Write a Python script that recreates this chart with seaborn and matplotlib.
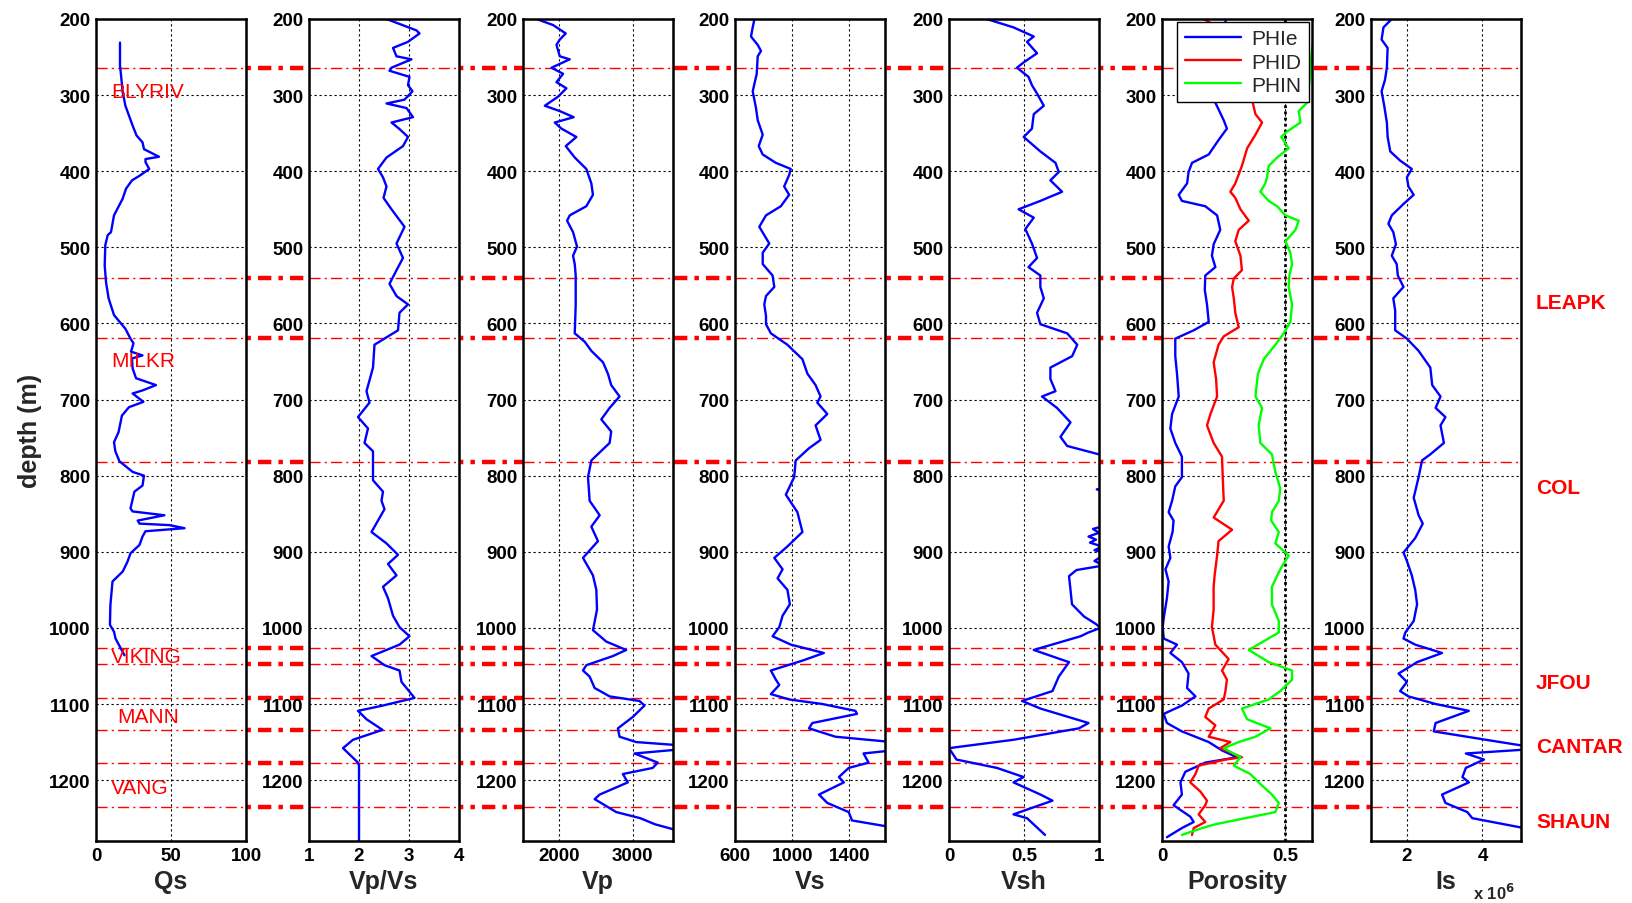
import numpy as np
import pandas as pd
import matplotlib
matplotlib.use("Agg")
import matplotlib.pyplot as plt
import seaborn as sns
from matplotlib.lines import Line2D
from matplotlib import transforms

# ---------------- data (depth m, value) ----------------
qs_log = [(231,16),(261,16),(274,16.7),(296,17.8),(314,19.6),(327,22),(340,24.4),(353,27),(362,31),(371,32),
          (377,38),(381,42),(384,33),(388,33),(397,35.5),(406,29),(412,24),(423,20),(436,17.8),(458,12),(480,10),
          (484,7.8),(497,6.2),(524,5.8),(546,6.7),(567,8.4),(589,12),(607,19.6),(620,23),(626,25),(633,24),
          (637,23.3),(642,31),(646,24),(659,24.4),(672,26.7),(681,40),(688,31),(692,24.4),(699,29),(703,31.6),
          (710,22),(721,17.3),(743,15),(756,12),(768,12.9),(781,15.6),(795,24.4),(800,32),(813,31),(821,25.6),
          (843,23),(847,24.4),(852,45.6),(859,27.8),(863,29),(865,49),(869,59),(873,33),(880,31),(891,29),
          (902,23),(913,21),(926,17.8),(939,11),(970,9.6),(996,9.3),(1005,12),(1014,13),(1036,19)]

vpvs_log = [(200,2.55),(215,3.15),(219,3.21),(230,2.98),(238,2.68),(249,2.75),(253,3.05),(264,2.65),(268,2.61),
            (276,3.01),(287,2.98),(295,3.07),(306,2.91),(311,2.55),(317,2.95),(329,3.08),(336,2.65),(344,2.8),
            (355,2.98),(367,2.88),(382,2.55),(397,2.38),(408,2.48),(420,2.55),(435,2.49),(450,2.65),(473,2.91),
            (495,2.75),(514,2.88),(530,2.75),(548,2.61),(564,2.75),(575,2.98),(586,2.81),(609,2.78),(628,2.31),
            (658,2.28),(689,2.15),(704,2.21),(723,1.98),(738,2.18),(757,2.11),(768,2.28),(806,2.28),(821,2.48),
            (833,2.45),(844,2.51),(874,2.25),(889,2.55),(904,2.78),(916,2.58),(931,2.75),(946,2.48),(961,2.58),
            (984,2.68),(999,2.81),(1011,3.01),(1022,2.81),(1037,2.25),(1049,2.51),(1056,2.81),(1071,2.85),
            (1079,2.95),(1092,3.11),(1102,2.48),(1109,1.98),(1120,2.15),(1134,2.47),(1147,1.88),(1158,1.68),
            (1177,1.98),(1181,2.0),(1280,2.0)]

vp_log = [(200,1694),(208,1919),(219,2090),(227,2009),(234,1964),(249,2009),(253,2144),(261,1964),(264,1896),
          (272,2054),(283,1964),(291,2099),(302,1986),(314,1806),(321,2009),(329,2198),(336,1941),(344,2031),
          (355,2234),(367,2090),(382,2212),(397,2369),(416,2437),(431,2459),(446,2369),(458,2144),(465,2108),
          (480,2189),(499,2243),(511,2189),(522,2212),(537,2225),(575,2225),(613,2212),(624,2347),(636,2437),
          (651,2595),(666,2662),(681,2707),(696,2820),(711,2685),(726,2572),(742,2707),(757,2685),(780,2437),
          (802,2392),(833,2414),(852,2550),(867,2437),(886,2527),(908,2324),(931,2459),(950,2505),(976,2514),
          (1003,2459),(1018,2640),(1029,2910),(1037,2730),(1049,2369),(1056,2324),(1064,2414),(1079,2482),
          (1090,2685),(1096,3090),(1102,3158),(1117,3000),(1132,2797),(1143,2820),(1150,3045),(1154,3600),
          (1160,3600),(1165,3023),(1177,3338),(1184,3270),(1192,2865),(1203,2932),(1219,2550),(1225,2482),
          (1242,2775),(1250,3100),(1258,3300),(1266,3600)]

vs_log = [(200,736),(211,724),(223,712),(234,759),(242,782),(249,759),(272,752),(295,724),(317,747),(333,759),
          (352,794),(367,766),(378,794),(389,886),(397,990),(405,979),(420,944),(431,979),(446,921),(458,817),
          (473,770),(484,805),(495,840),(507,794),(522,794),(537,863),(552,875),(564,817),(575,805),(590,817),
          (601,817),(613,851),(628,967),(647,1072),(666,1107),(681,1164),(696,1199),(704,1176),(719,1246),
          (734,1164),(753,1199),(764,1118),(780,1025),(802,1014),(825,956),(848,1037),(874,1072),(893,967),
          (908,875),(923,933),(935,898),(950,967),(969,984),(984,933),(999,910),(1011,863),(1022,991),
          (1033,1222),(1043,1072),(1056,851),(1068,886),(1075,910),(1087,851),(1094,979),(1100,1211),
          (1109,1443),(1113,1454),(1125,1141),(1132,1118),(1143,1303),(1150,1700),(1161,1700),(1165,1500),
          (1177,1535),(1184,1396),(1196,1327),(1203,1362),(1219,1188),(1230,1246),(1242,1396),(1253,1419),
          (1262,1700)]

vsh_log = [(200,0.25),(211,0.43),(223,0.565),(230,0.52),(245,0.587),(257,0.498),(264,0.453),(276,0.53),
           (287,0.553),(298,0.587),(314,0.632),(325,0.565),(344,0.553),(355,0.498),(374,0.609),(389,0.71),
           (401,0.732),(412,0.676),(427,0.754),(439,0.609),(450,0.464),(461,0.565),(476,0.509),(495,0.553),
           (514,0.587),(526,0.53),(537,0.609),(552,0.609),(567,0.632),(586,0.587),(601,0.609),(613,0.788),
           (628,0.855),(643,0.821),(658,0.676),(673,0.676),(689,0.71),(696,0.62),(711,0.72),(730,0.81),
           (749,0.743),(761,0.788),(772,1.0),(780,1.1),(815,1.05),(818,0.985),(822,1.05),(865,1.05),(870,0.96),
           (875,1.0),(880,0.93),(884,0.98),(888,0.94),(893,1.02),(898,0.97),(902,1.05),(912,0.97),(918,1.03),
           (924,0.85),(932,0.80),(950,0.81),(969,0.82),(985,0.9),(995,0.98),(1000,1.01),(1006,0.93),
           (1011,0.877),(1029,0.565),(1045,0.8),(1064,0.732),(1083,0.69),(1096,0.487),(1106,0.61),(1125,0.93),
           (1132,0.866),(1147,0.43),(1158,0.0),(1173,0.05),(1184,0.32),(1196,0.498),(1203,0.43),(1219,0.61),
           (1227,0.69),(1245,0.43),(1250,0.52),(1272,0.64)]

phie_log = [(200,0.26),(230,0.245),(260,0.23),(290,0.22),(310,0.217),(333,0.251),(344,0.264),(359,0.23),
            (378,0.19),(389,0.122),(401,0.108),(416,0.102),(431,0.068),(439,0.081),(446,0.176),(458,0.224),
            (477,0.237),(496,0.21),(511,0.203),(526,0.217),(537,0.176),(556,0.174),(575,0.183),(598,0.19),
            (609,0.129),(620,0.054),(643,0.054),(666,0.061),(696,0.068),(719,0.041),(738,0.034),(757,0.054),
            (775,0.081),(802,0.081),(814,0.054),(833,0.041),(848,0.027),(859,0.047),(874,0.043),(893,0.027),
            (908,0.034),(923,0.014),(939,0.027),(961,0.02),(987,0.007),(999,0.003),(1014,0.007),(1022,0.061),
            (1033,0.034),(1045,0.081),(1060,0.108),(1079,0.102),(1090,0.136),(1102,0.081),(1113,0.007),
            (1125,0.02),(1136,0.081),(1150,0.19),(1161,0.244),(1170,0.305),(1177,0.176),(1189,0.095),
            (1203,0.075),(1219,0.081),(1233,0.047),(1248,0.115),(1255,0.129),(1263,0.081),(1275,0.02)]

phid_log = [(200,0.17),(215,0.25),(240,0.33),(270,0.36),(290,0.37),(310,0.369),(325,0.38),(336,0.407),
            (352,0.38),(370,0.346),(393,0.325),(416,0.298),(427,0.278),(435,0.298),(450,0.319),(465,0.353),
            (477,0.312),(492,0.298),(511,0.319),(530,0.325),(541,0.292),(552,0.285),(567,0.292),(586,0.298),
            (605,0.312),(617,0.251),(628,0.23),(651,0.21),(673,0.22),(696,0.224),(719,0.197),(734,0.183),
            (757,0.21),(775,0.244),(802,0.247),(833,0.251),(855,0.21),(871,0.285),(886,0.23),(905,0.224),
            (931,0.214),(946,0.21),(976,0.21),(999,0.203),(1022,0.217),(1041,0.271),(1056,0.244),(1068,0.264),
            (1083,0.258),(1094,0.251),(1106,0.19),(1117,0.176),(1128,0.217),(1143,0.19),(1150,0.278),
            (1158,0.237),(1170,0.325),(1173,0.258),(1181,0.149),(1192,0.136),(1203,0.115),(1215,0.156),
            (1227,0.183),(1233,0.176),(1245,0.149),(1255,0.176),(1263,0.129),(1272,0.122)]

phin_log = [(200,0.63),(240,0.61),(280,0.6),(310,0.59),(321,0.556),(336,0.563),(348,0.508),(355,0.485),
            (370,0.515),(382,0.468),(393,0.434),(408,0.427),(416,0.42),(427,0.40),(439,0.434),(446,0.468),
            (458,0.502),(465,0.556),(477,0.543),(492,0.502),(507,0.522),(522,0.529),(537,0.518),(552,0.515),
            (575,0.529),(598,0.522),(613,0.495),(628,0.461),(647,0.414),(666,0.39),(696,0.38),(711,0.407),
            (734,0.393),(757,0.40),(772,0.447),(795,0.461),(817,0.481),(833,0.475),(848,0.447),(859,0.444),
            (874,0.475),(889,0.461),(905,0.515),(923,0.481),(946,0.447),(969,0.447),(991,0.475),(1006,0.475),
            (1029,0.353),(1045,0.434),(1056,0.529),(1068,0.529),(1083,0.481),(1094,0.434),(1106,0.325),
            (1120,0.346),(1132,0.441),(1143,0.38),(1150,0.312),(1158,0.251),(1170,0.319),(1181,0.292),
            (1192,0.359),(1203,0.393),(1219,0.447),(1230,0.475),(1242,0.461),(1258,0.217),(1263,0.163),
            (1272,0.081)]

is_log = [(200,1.6),(211,1.38),(227,1.33),(238,1.49),(264,1.47),(280,1.42),(295,1.33),(314,1.4),(336,1.47),
          (355,1.49),(374,1.56),(386,1.82),(397,2.13),(408,2.0),(420,2.04),(431,2.18),(443,1.91),(458,1.6),
          (469,1.51),(480,1.64),(496,1.71),(511,1.6),(522,1.73),(537,1.76),(552,1.91),(567,1.64),(583,1.69),
          (609,1.69),(620,2.0),(636,2.31),(658,2.62),(681,2.67),(696,2.89),(711,2.76),(723,3.02),(734,2.89),
          (757,2.98),(772,2.62),(780,2.4),(802,2.31),(829,2.18),(852,2.31),(863,2.42),(882,2.22),(901,1.91),
          (912,2.0),(931,2.13),(950,2.22),(969,2.27),(991,2.18),(1006,1.96),(1014,1.91),(1022,2.22),(1033,2.93),
          (1045,2.27),(1060,1.78),(1071,2.0),(1083,1.82),(1090,2.04),(1100,2.76),(1109,3.64),(1117,3.2),
          (1125,2.76),(1136,2.71),(1147,4.09),(1155,5.1),(1160,5.1),(1165,3.56),(1173,4.04),(1184,3.56),
          (1196,3.47),(1203,3.64),(1219,2.93),(1230,3.02),(1242,3.6),(1250,3.73),(1263,5.1)]

formation_tops = [265, 540, 619, 782, 1026, 1047, 1092, 1134, 1178, 1235]
left_names = ["BLYRIV", "MILKR", "VIKING", "MANN", "VANG"]
left_depths = [295, 649, 1037, 1116, 1210]
right_names = ["LEAPK", "COL", "JFOU", "CANTAR", "SHAUN"]
right_depths = [572, 815, 1072, 1156, 1255]

depth_ticks = list(range(200, 1201, 100))

panel_names = ["Qs", "Vp/Vs", "Vp", "Vs", "Vsh", "Porosity", "Is"]
panel_limits = [(0, 100), (1, 4), (1510, 3545), (600, 1650), (0, 1), (0, 0.61), (1.05, 5.02)]
panel_ticks = [[0, 50, 100], [1, 2, 3, 4], [2000, 3000], [600, 1000, 1400], [0, 0.5, 1], [0, 0.5], [2, 4]]
panel_ticklabels = [["0", "50", "100"], ["1", "2", "3", "4"], ["2000", "3000"], ["600", "1000", "1400"],
                    ["0", "0.5", "1"], ["0", "0.5"], ["2", "4"]]

# ---------------- style ----------------
sns.set_style("white")
plt.rcParams["font.family"] = ["Liberation Sans", "DejaVu Sans"]
plt.rcParams["axes.axisbelow"] = True

W, H = 1633, 904
fig = plt.figure(figsize=(W / 100, H / 100), dpi=100)
fig.patch.set_facecolor("white")

lefts_px = [96, 309, 523, 735, 949, 1162, 1371]
ax_w_px = 150
top_px, bot_px = 20, 842

def frame(df):
    return pd.DataFrame(df, columns=["depth", "value"])

single_logs = [qs_log, vpvs_log, vp_log, vs_log, vsh_log, None, is_log]
axes = []
for i, name in enumerate(panel_names):
    ax = fig.add_axes([lefts_px[i] / W, (H - bot_px) / H, ax_w_px / W, (bot_px - top_px) / H])
    axes.append(ax)
    if single_logs[i] is not None:
        sns.lineplot(data=frame(single_logs[i]), x="value", y="depth", orient="y", sort=False,
                     estimator=None, color=(0, 0, 1), lw=1.7, ax=ax)
    else:
        for log, lab, col in [(phie_log, "PHIe", (0, 0, 1)), (phid_log, "PHID", (1, 0, 0)),
                              (phin_log, "PHIN", (0, 1, 0))]:
            sns.lineplot(data=frame(log), x="value", y="depth", orient="y", sort=False,
                         estimator=None, color=col, lw=1.7, ax=ax, label=lab)
    ax.set_xlim(*panel_limits[i])
    ax.set_ylim(1280, 200)
    ax.set_xticks(panel_ticks[i])
    ax.set_xticklabels(panel_ticklabels[i])
    ax.set_yticks(depth_ticks)
    ax.set_yticklabels([str(t) for t in depth_ticks])
    ax.grid(True, color="k", ls=(0, (2, 2.5)), lw=0.8)
    for s in ax.spines.values():
        s.set_color("k")
        s.set_linewidth(1.8)
    ax.tick_params(direction="in", length=4, width=1, labelsize=13.5, pad=4, colors="k")
    for lab in ax.get_xticklabels() + ax.get_yticklabels():
        lab.set_fontweight("bold")
    ax.set_xlabel(name, fontsize=18, fontweight="bold", labelpad=4)
    ax.set_ylabel("")
    for d in formation_tops:
        ax.axhline(d, color="red", lw=1.0, ls=(0, (8, 3, 1.5, 3)), zorder=1.8)

axes[0].set_ylabel("depth (m)", fontsize=18, fontweight="bold")
axes[0].yaxis.set_label_coords(-0.36, 0.5)

# porosity legend and cutoff
por = axes[5]
por.axvline(0.5, color="k", ls=(0, (1, 1.2)), lw=2, zorder=1.5)
leg = por.legend(loc="upper right", fontsize=15, frameon=True, fancybox=False, edgecolor="k",
                 framealpha=1, borderaxespad=0.15, handlelength=2.7, labelspacing=0.2,
                 borderpad=0.35, handletextpad=0.5)
leg.get_frame().set_linewidth(1)
leg.set_zorder(5)

# left formation names
for name, d in zip(left_names, left_depths):
    x = 14 if name == "MANN" else 10
    axes[0].text(x, d, name, color="red", fontsize=15, ha="left", va="center", zorder=4)

# figure-wide thick formation lines (visible between panels)
blend = transforms.blended_transform_factory(fig.transFigure, axes[0].transData)
for d in formation_tops:
    ln = Line2D([98 / W, 1526 / W], [d, d], transform=blend, color="red", lw=3.2,
                ls=(0, (3, 1.6, 1, 1.6)), zorder=-1)
    fig.add_artist(ln)

# right formation names
for name, d in zip(right_names, right_depths):
    fig.text(1536 / W, d, name, transform=blend, color="red", fontsize=15, fontweight="bold",
             ha="left", va="center")

fig.text(1473 / W, (H - 893) / H, r"x 10$^{\mathbf{6}}$", fontsize=12, fontweight="bold",
         ha="left", va="center")

fig.savefig("out.png", dpi=100, facecolor="white")
